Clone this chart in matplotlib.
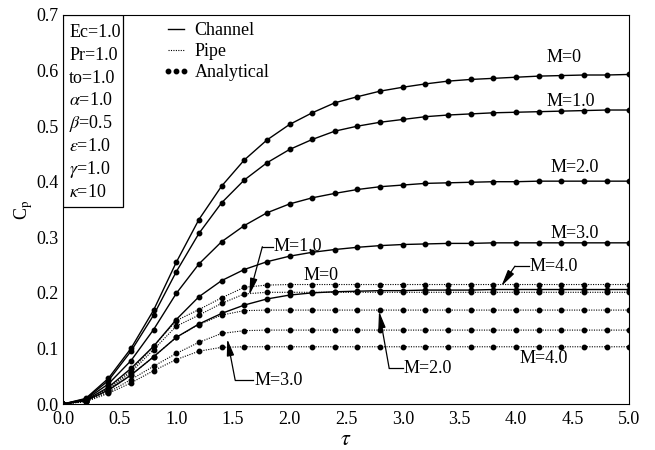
# Cp vs tau for channel / pipe flow, with analytical points

import numpy as np
import matplotlib
matplotlib.use('Agg')
import matplotlib.pyplot as plt
from matplotlib.lines import Line2D
from matplotlib.patches import Rectangle

plt.rcParams['font.family'] = ['Liberation Serif', 'DejaVu Serif']
plt.rcParams['mathtext.fontset'] = 'stix'

# data (tau every 0.2)

tau = [0.0, 0.2, 0.4, 0.6, 0.8, 1.0, 1.2, 1.4, 1.6, 1.8, 2.0, 2.2, 2.4,
       2.6, 2.8, 3.0, 3.2, 3.4, 3.6, 3.8, 4.0, 4.2, 4.4, 4.6, 4.8, 5.0]

ch_M0 = [0.000, 0.010, 0.046, 0.100, 0.169, 0.255, 0.332, 0.392, 0.439, 0.475, 0.503, 0.524, 0.542,
         0.553, 0.563, 0.570, 0.576, 0.581, 0.584, 0.586, 0.588, 0.590, 0.591, 0.592, 0.592, 0.593]
ch_M1 = [0.000, 0.009, 0.042, 0.095, 0.160, 0.238, 0.307, 0.362, 0.403, 0.434, 0.458, 0.476, 0.491,
         0.500, 0.507, 0.512, 0.517, 0.520, 0.522, 0.524, 0.525, 0.526, 0.527, 0.528, 0.529, 0.529]
ch_M2 = [0.000, 0.008, 0.036, 0.078, 0.134, 0.199, 0.252, 0.292, 0.321, 0.344, 0.360, 0.371, 0.379,
         0.386, 0.391, 0.394, 0.397, 0.398, 0.399, 0.400, 0.400, 0.401, 0.401, 0.401, 0.401, 0.401]
ch_M3 = [0.000, 0.007, 0.030, 0.064, 0.104, 0.152, 0.193, 0.222, 0.242, 0.256, 0.266, 0.273, 0.278,
         0.282, 0.285, 0.287, 0.288, 0.289, 0.289, 0.290, 0.290, 0.290, 0.290, 0.290, 0.290, 0.290]
ch_M4 = [0.000, 0.006, 0.025, 0.052, 0.085, 0.120, 0.144, 0.163, 0.178, 0.189, 0.196, 0.200, 0.202,
         0.203, 0.204, 0.204, 0.205, 0.205, 0.205, 0.206, 0.206, 0.206, 0.206, 0.206, 0.206, 0.206]

pipe_M0 = [0.000, 0.006, 0.028, 0.060, 0.104, 0.150, 0.170, 0.191, 0.210, 0.214, 0.215, 0.215, 0.215,
           0.215, 0.215, 0.215, 0.215, 0.215, 0.215, 0.215, 0.215, 0.215, 0.215, 0.215, 0.215, 0.215]
pipe_M1 = [0.000, 0.006, 0.026, 0.057, 0.098, 0.140, 0.160, 0.181, 0.198, 0.201, 0.201, 0.201, 0.201,
           0.201, 0.201, 0.201, 0.201, 0.201, 0.201, 0.201, 0.201, 0.201, 0.201, 0.201, 0.201, 0.201]
pipe_M2 = [0.000, 0.005, 0.024, 0.052, 0.085, 0.120, 0.143, 0.160, 0.168, 0.169, 0.169, 0.169, 0.169,
           0.169, 0.169, 0.169, 0.169, 0.169, 0.169, 0.169, 0.169, 0.169, 0.169, 0.169, 0.169, 0.169]
pipe_M3 = [0.000, 0.005, 0.021, 0.044, 0.068, 0.091, 0.111, 0.127, 0.132, 0.133, 0.133, 0.133, 0.133,
           0.133, 0.133, 0.133, 0.133, 0.133, 0.133, 0.133, 0.133, 0.133, 0.133, 0.133, 0.133, 0.133]
pipe_M4 = [0.000, 0.004, 0.019, 0.038, 0.060, 0.080, 0.095, 0.102, 0.103, 0.103, 0.103, 0.103, 0.103,
           0.103, 0.103, 0.103, 0.103, 0.103, 0.103, 0.103, 0.103, 0.103, 0.103, 0.103, 0.103, 0.103]

channel = [ch_M0, ch_M1, ch_M2, ch_M3, ch_M4]
pipe = [pipe_M0, pipe_M1, pipe_M2, pipe_M3, pipe_M4]

params = ['Ec=1.0', 'Pr=1.0', 'to=1.0', r'$\alpha$=1.0', r'$\beta$=0.5',
          r'$\epsilon$=1.0', r'$\gamma$=1.0', r'$\kappa$=10']

# plain labels (text, x, y)
labels = [('M=0', 4.42, 0.624), ('M=1.0', 4.48, 0.544), ('M=2.0', 4.52, 0.425),
          ('M=3.0', 4.52, 0.306), ('M=0', 2.28, 0.232), ('M=4.0', 4.24, 0.082)]

# bent arrow labels: text, text-left x, y, corner x, tip x, tip y
arrows = [('M=4.0', 4.12, 0.248, 3.99, 3.87, 0.212),
          ('M=1.0', 1.86, 0.283, 1.76, 1.645, 0.196),
          ('M=3.0', 1.69, 0.043, 1.52, 1.45, 0.117),
          ('M=2.0', 3.01, 0.064, 2.88, 2.79, 0.167)]

fs = 13

fig = plt.figure(figsize=(6.55, 4.5), dpi=100)
ax = fig.add_axes([0.0962, 0.1022, 0.8646, 0.8645])

for c in channel:
    ax.plot(tau, c, 'k-', lw=1.0)
    ax.plot(tau, c, 'ko', ms=3.2, ls='none')
for p in pipe:
    ax.plot(tau, p, color='k', lw=0.8, ls=(0, (1, 1.2)))
    ax.plot(tau, p, 'ko', ms=3.2, ls='none')

ax.set_xlim(0, 5)
ax.set_ylim(0, 0.7)
ax.set_xticks(np.arange(0, 5.01, 0.5))
ax.set_yticks(np.arange(0, 0.71, 0.1))
ax.xaxis.set_major_formatter(plt.FormatStrFormatter('%.1f'))
ax.yaxis.set_major_formatter(plt.FormatStrFormatter('%.1f'))
ax.tick_params(length=0, labelsize=fs)
ax.tick_params(axis='x', pad=5)
ax.tick_params(axis='y', pad=3)
ax.set_xlabel(r'$\tau$', fontsize=16, labelpad=2)
ax.set_ylabel(r'C$_{\rm p}$', fontsize=fs, labelpad=1)

for t, x, y in labels:
    ax.text(x, y, t, fontsize=fs, ha='center', va='center')

for t, xt, y, xc, xa, ya in arrows:
    ax.text(xt, y, t, fontsize=fs, ha='left', va='center')
    ax.plot([xt - 0.01, xc], [y, y], 'k-', lw=0.9)
    ax.annotate('', xy=(xa, ya), xytext=(xc, y),
                arrowprops=dict(arrowstyle='-|>,head_length=1.0,head_width=0.22',
                                color='k', lw=0.9, shrinkA=0, shrinkB=0))

# parameter box
ax.add_patch(Rectangle((0, 0.506), 0.106, 0.494, transform=ax.transAxes,
                       fc='white', ec='k', lw=0.9, zorder=5))
for i, s in enumerate(params):
    ax.text(0.011, 0.955 - i * 0.0587, s, transform=ax.transAxes, fontsize=fs,
            ha='left', va='center', zorder=6)

h = [Line2D([], [], color='k', lw=1.0),
     Line2D([], [], color='k', lw=0.8, ls=(0, (1, 1.2))),
     Line2D([], [], color='k', marker='o', ms=3.2, ls='none')]
ax.legend(h, ['Channel', 'Pipe', 'Analytical'], loc='upper left',
          bbox_to_anchor=(0.175, 0.982), frameon=False, fontsize=fs,
          handlelength=1.5, handletextpad=0.3, labelspacing=0.22,
          borderpad=0, borderaxespad=0, numpoints=3)

plt.savefig('out.png', dpi=100)
